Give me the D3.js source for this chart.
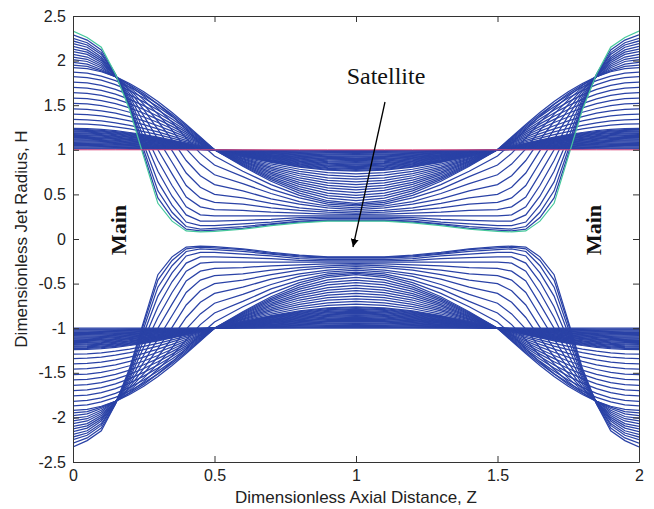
<!DOCTYPE html>
<html>
<head>
<meta charset="utf-8">
<script src="https://cdnjs.cloudflare.com/ajax/libs/d3/7.8.5/d3.min.js"></script>
<style>
  body { margin: 0; background: #fff; }
  text { font-family: "Liberation Sans", Arial, sans-serif; fill: #222; }
</style>
</head>
<body>
<script>
      //Posiciones axiales de media longitud de onda (el perfil es simetrico respecto a z=1)
      var zHalf = [0, 0.05, 0.1, 0.15, 0.2, 0.25, 0.3, 0.35, 0.4, 0.45, 0.5, 0.6, 0.7, 0.8, 0.9, 1];

      //Perfil inicial H=1
      var initialH = [1, 1, 1, 1, 1, 1, 1, 1, 1, 1, 1, 1, 1, 1, 1, 1];

      //Crecimiento lineal (lineas muy juntas)
      var phaseA = [
        [1.01, 1.01, 1.01, 1.009, 1.008, 1.007, 1.006, 1.005, 1.003, 1.002, 1, 0.997, 0.994, 0.992, 0.99, 0.99],
        [1.02, 1.02, 1.019, 1.018, 1.016, 1.014, 1.012, 1.009, 1.006, 1.003, 1, 0.994, 0.988, 0.984, 0.981, 0.98],
        [1.03, 1.03, 1.029, 1.027, 1.024, 1.021, 1.018, 1.014, 1.009, 1.005, 1, 0.991, 0.982, 0.976, 0.971, 0.97],
        [1.04, 1.04, 1.038, 1.036, 1.032, 1.028, 1.024, 1.018, 1.012, 1.006, 1, 0.988, 0.976, 0.968, 0.962, 0.96],
        [1.05, 1.049, 1.048, 1.045, 1.04, 1.035, 1.029, 1.023, 1.015, 1.008, 1, 0.985, 0.971, 0.96, 0.952, 0.95],
        [1.06, 1.059, 1.057, 1.053, 1.049, 1.042, 1.035, 1.027, 1.019, 1.009, 1, 0.981, 0.965, 0.951, 0.943, 0.94],
        [1.07, 1.069, 1.067, 1.062, 1.057, 1.049, 1.041, 1.032, 1.022, 1.011, 1, 0.978, 0.959, 0.943, 0.933, 0.93],
        [1.08, 1.079, 1.076, 1.071, 1.065, 1.057, 1.047, 1.036, 1.025, 1.012, 1, 0.975, 0.953, 0.935, 0.924, 0.92],
        [1.09, 1.089, 1.086, 1.08, 1.073, 1.064, 1.053, 1.041, 1.028, 1.014, 1, 0.972, 0.947, 0.927, 0.914, 0.91],
        [1.10, 1.099, 1.095, 1.089, 1.081, 1.071, 1.059, 1.045, 1.031, 1.016, 1, 0.969, 0.941, 0.919, 0.905, 0.90],
        [1.11, 1.109, 1.105, 1.098, 1.089, 1.078, 1.065, 1.05, 1.034, 1.017, 1, 0.966, 0.935, 0.911, 0.895, 0.89],
        [1.12, 1.119, 1.114, 1.107, 1.097, 1.085, 1.071, 1.054, 1.037, 1.019, 1, 0.963, 0.929, 0.903, 0.886, 0.88],
        [1.13, 1.128, 1.124, 1.116, 1.105, 1.092, 1.076, 1.059, 1.04, 1.02, 1, 0.96, 0.924, 0.895, 0.876, 0.87],
        [1.14, 1.138, 1.133, 1.125, 1.113, 1.099, 1.082, 1.064, 1.043, 1.022, 1, 0.957, 0.918, 0.887, 0.867, 0.86],
        [1.15, 1.148, 1.143, 1.134, 1.121, 1.106, 1.088, 1.068, 1.046, 1.023, 1, 0.954, 0.912, 0.879, 0.857, 0.85],
        [1.16, 1.158, 1.152, 1.143, 1.129, 1.113, 1.094, 1.073, 1.049, 1.025, 1, 0.951, 0.906, 0.871, 0.848, 0.84],
        [1.17, 1.168, 1.162, 1.151, 1.138, 1.12, 1.1, 1.077, 1.053, 1.027, 1, 0.947, 0.9, 0.862, 0.838, 0.83],
        [1.18, 1.178, 1.171, 1.16, 1.146, 1.127, 1.106, 1.082, 1.056, 1.028, 1, 0.944, 0.894, 0.854, 0.829, 0.82],
        [1.19, 1.188, 1.181, 1.169, 1.154, 1.134, 1.112, 1.086, 1.059, 1.03, 1, 0.941, 0.888, 0.846, 0.819, 0.81],
        [1.20, 1.198, 1.19, 1.178, 1.162, 1.141, 1.118, 1.091, 1.062, 1.031, 1, 0.938, 0.882, 0.838, 0.81, 0.80],
        [1.21, 1.207, 1.2, 1.187, 1.17, 1.148, 1.123, 1.095, 1.065, 1.033, 1, 0.935, 0.877, 0.83, 0.8, 0.79],
        [1.22, 1.217, 1.209, 1.196, 1.178, 1.156, 1.129, 1.1, 1.068, 1.034, 1, 0.932, 0.871, 0.822, 0.791, 0.78],
        [1.23, 1.227, 1.219, 1.205, 1.186, 1.163, 1.135, 1.104, 1.071, 1.036, 1, 0.929, 0.865, 0.814, 0.781, 0.77],
        [1.24, 1.237, 1.228, 1.214, 1.194, 1.17, 1.141, 1.109, 1.074, 1.037, 1, 0.926, 0.859, 0.806, 0.772, 0.76]
      ];

      //Crecimiento no lineal (lineas separadas)
      var phaseB = [
        [1.29, 1.287, 1.276, 1.258, 1.235, 1.205, 1.171, 1.132, 1.09, 1.045, 1, 0.917, 0.841, 0.782, 0.743, 0.73],
        [1.34, 1.336, 1.323, 1.303, 1.275, 1.24, 1.2, 1.154, 1.105, 1.053, 1, 0.907, 0.824, 0.757, 0.715, 0.70],
        [1.40, 1.395, 1.38, 1.356, 1.324, 1.283, 1.235, 1.182, 1.124, 1.062, 1, 0.898, 0.806, 0.733, 0.686, 0.67],
        [1.46, 1.454, 1.437, 1.41, 1.372, 1.325, 1.27, 1.209, 1.142, 1.072, 1, 0.889, 0.788, 0.709, 0.658, 0.64],
        [1.52, 1.514, 1.495, 1.463, 1.421, 1.368, 1.306, 1.236, 1.161, 1.081, 1, 0.879, 0.771, 0.684, 0.629, 0.61],
        [1.58, 1.573, 1.552, 1.517, 1.469, 1.41, 1.341, 1.263, 1.179, 1.09, 1, 0.870, 0.753, 0.66, 0.601, 0.58],
        [1.64, 1.632, 1.609, 1.57, 1.518, 1.452, 1.376, 1.291, 1.198, 1.1, 1, 0.861, 0.735, 0.636, 0.572, 0.55],
        [1.70, 1.692, 1.666, 1.624, 1.566, 1.495, 1.412, 1.318, 1.216, 1.109, 1, 0.852, 0.718, 0.612, 0.544, 0.52],
        [1.76, 1.751, 1.723, 1.677, 1.615, 1.537, 1.447, 1.345, 1.235, 1.119, 1, 0.842, 0.70, 0.587, 0.515, 0.49],
        [1.82, 1.81, 1.78, 1.731, 1.663, 1.58, 1.482, 1.372, 1.253, 1.128, 1, 0.833, 0.682, 0.563, 0.486, 0.46],
        [1.87, 1.86, 1.827, 1.775, 1.704, 1.615, 1.512, 1.395, 1.269, 1.136, 1, 0.824, 0.665, 0.539, 0.458, 0.43],
        [1.92, 1.909, 1.875, 1.82, 1.744, 1.65, 1.541, 1.418, 1.284, 1.144, 1, 0.815, 0.647, 0.515, 0.429, 0.40]
      ];

      //Formacion del cuello y del satelite
      var phaseC = [
        [1.95, 1.935, 1.885, 1.82, 1.73, 1.63, 1.51, 1.38, 1.23, 1.07, 0.93, 0.76, 0.61, 0.49, 0.41, 0.385],
        [1.98, 1.96, 1.90, 1.82, 1.72, 1.60, 1.46, 1.31, 1.13, 0.96, 0.83, 0.70, 0.56, 0.46, 0.39, 0.37],
        [2.01, 1.99, 1.92, 1.82, 1.70, 1.56, 1.40, 1.22, 1.01, 0.84, 0.72, 0.62, 0.51, 0.42, 0.37, 0.35],
        [2.04, 2.015, 1.94, 1.82, 1.68, 1.51, 1.32, 1.11, 0.88, 0.71, 0.61, 0.54, 0.45, 0.39, 0.35, 0.33],
        [2.07, 2.04, 1.96, 1.83, 1.66, 1.45, 1.23, 0.99, 0.74, 0.58, 0.50, 0.46, 0.40, 0.35, 0.32, 0.31],
        [2.10, 2.07, 1.98, 1.83, 1.63, 1.38, 1.12, 0.86, 0.60, 0.46, 0.41, 0.39, 0.35, 0.32, 0.30, 0.29],
        [2.13, 2.095, 2.00, 1.83, 1.60, 1.30, 1.00, 0.73, 0.47, 0.36, 0.33, 0.32, 0.30, 0.29, 0.28, 0.275],
        [2.16, 2.12, 2.02, 1.83, 1.57, 1.21, 0.88, 0.60, 0.36, 0.27, 0.26, 0.26, 0.26, 0.26, 0.26, 0.26],
        [2.19, 2.15, 2.04, 1.84, 1.54, 1.13, 0.76, 0.48, 0.27, 0.20, 0.20, 0.21, 0.22, 0.24, 0.245, 0.245],
        [2.22, 2.175, 2.07, 1.84, 1.51, 1.06, 0.64, 0.38, 0.19, 0.15, 0.15, 0.17, 0.19, 0.22, 0.23, 0.23],
        [2.25, 2.20, 2.09, 1.84, 1.49, 1.00, 0.54, 0.30, 0.14, 0.11, 0.12, 0.14, 0.17, 0.20, 0.215, 0.215],
        [2.29, 2.23, 2.12, 1.85, 1.47, 0.95, 0.46, 0.24, 0.11, 0.09, 0.10, 0.12, 0.16, 0.19, 0.205, 0.205]
      ];

      //Perfil final (rotura)
      var finalH = [2.33, 2.26, 2.15, 1.85, 1.45, 0.92, 0.40, 0.20, 0.09, 0.08, 0.085, 0.11, 0.15, 0.18, 0.20, 0.20];

      //Ticks
      var xTicks = [0, 0.5, 1, 1.5, 2];
      var xTickLabels = ["0", "0.5", "1", "1.5", "2"];
      var yTicks = [-2.5, -2, -1.5, -1, -0.5, 0, 0.5, 1, 1.5, 2, 2.5];
      var yTickLabels = ["-2.5", "-2", "-1.5", "-1", "-0.5", "0", "0.5", "1", "1.5", "2", "2.5"];

      //Margenes y tamaños
      var W = 654, H = 509;
      var margin = { top: 16, right: 15, bottom: 47, left: 73 };

      var svg = d3.select("body").append("svg")
          .attr("width", W)
          .attr("height", H);

      var xScale = d3.scaleLinear()
          .domain([0, 2])
          .range([margin.left, W - margin.right]);

      var yScale = d3.scaleLinear()
          .domain([-2.5, 2.5])
          .range([H - margin.bottom, margin.top]);

      //z completo: media onda + su reflejo
      var zFull = zHalf.concat(zHalf.slice(0, -1).reverse().map(function(z) { return 2 - z; }));
      function full(p) { return p.concat(p.slice(0, -1).reverse()); }

      svg.append("clipPath").attr("id", "clip")
        .append("rect")
          .attr("x", margin.left).attr("y", margin.top)
          .attr("width", W - margin.left - margin.right)
          .attr("height", H - margin.top - margin.bottom);

      var plot = svg.append("g").attr("clip-path", "url(#clip)");

      var upper = d3.line()
          .x(function(d, i) { return xScale(zFull[i]); })
          .y(function(d) { return yScale(d); });
      var lower = d3.line()
          .x(function(d, i) { return xScale(zFull[i]); })
          .y(function(d) { return yScale(-d); });

      var blue = "#2a42a6";
      var profiles = phaseA.concat(phaseB, phaseC);

      //Mitad inferior (-H)
      plot.selectAll("path.lo")
          .data([initialH].concat(profiles, [finalH]))
          .enter().append("path")
          .attr("class", "lo")
          .attr("d", function(d) { return lower(full(d)); })
          .attr("fill", "none")
          .attr("stroke", blue)
          .attr("stroke-width", 1.25);

      //Mitad superior (H)
      plot.selectAll("path.up")
          .data(profiles)
          .enter().append("path")
          .attr("class", "up")
          .attr("d", function(d) { return upper(full(d)); })
          .attr("fill", "none")
          .attr("stroke", blue)
          .attr("stroke-width", 1.25);

      plot.append("path")
          .attr("d", upper(full(finalH)))
          .attr("fill", "none")
          .attr("stroke", "#46c89c")
          .attr("stroke-width", 1.2);

      plot.append("path")
          .attr("d", upper(full(initialH)))
          .attr("fill", "none")
          .attr("stroke", "#d9467a")
          .attr("stroke-width", 1);

      //Ejes con ticks hacia dentro (estilo matlab)
      svg.append("g")
         .attr("transform", "translate(0," + (H - margin.bottom) + ")")
         .call(d3.axisBottom(xScale).tickValues(xTicks)
               .tickFormat(function(d, i) { return xTickLabels[i]; })
               .tickSizeInner(-6).tickSizeOuter(0).tickPadding(8))
         .call(styleAxis);

      svg.append("g")
         .attr("transform", "translate(" + margin.left + ",0)")
         .call(d3.axisLeft(yScale).tickValues(yTicks)
               .tickFormat(function(d, i) { return yTickLabels[i]; })
               .tickSizeInner(-6).tickSizeOuter(0).tickPadding(7))
         .call(styleAxis);

      svg.append("g")
         .attr("transform", "translate(0," + margin.top + ")")
         .call(d3.axisTop(xScale).tickValues(xTicks).tickFormat("")
               .tickSizeInner(-6).tickSizeOuter(0))
         .call(styleAxis);

      svg.append("g")
         .attr("transform", "translate(" + (W - margin.right) + ",0)")
         .call(d3.axisRight(yScale).tickValues(yTicks).tickFormat("")
               .tickSizeInner(-6).tickSizeOuter(0))
         .call(styleAxis);

      function styleAxis(g) {
        g.select(".domain").attr("stroke", "#333");
        g.selectAll(".tick line").attr("stroke", "#333");
        g.selectAll(".tick text")
          .attr("fill", "#222")
          .style("font-family", '"Liberation Sans", Arial, sans-serif')
          .style("font-size", "16px");
      }

      //Titulos de los ejes
      svg.append("text")
          .attr("x", (margin.left + W - margin.right) / 2)
          .attr("y", 503)
          .attr("text-anchor", "middle")
          .style("font-size", "17px")
          .text("Dimensionless Axial Distance, Z");

      svg.append("text")
          .attr("transform", "translate(27," + yScale(0) + ") rotate(-90)")
          .attr("text-anchor", "middle")
          .style("font-size", "17px")
          .text("Dimensionless Jet Radius, H");

      //Anotaciones
      svg.append("defs").append("marker")
          .attr("id", "head")
          .attr("viewBox", "0 0 10 10")
          .attr("refX", 10).attr("refY", 5)
          .attr("markerWidth", 8).attr("markerHeight", 8)
          .attr("markerUnits", "userSpaceOnUse")
          .attr("orient", "auto")
        .append("path")
          .attr("d", "M0,0 L10,5 L0,10 z")
          .attr("fill", "#000");

      svg.append("text")
          .attr("x", 386).attr("y", 84)
          .attr("text-anchor", "middle")
          .style("font-family", '"Liberation Serif", "Times New Roman", serif')
          .style("font-size", "24px")
          .style("fill", "#111")
          .text("Satellite");

      svg.append("line")
          .attr("x1", 385).attr("y1", 102)
          .attr("x2", 353).attr("y2", 247)
          .attr("stroke", "#000")
          .attr("stroke-width", 1.3)
          .attr("marker-end", "url(#head)");

      [126, 601].forEach(function(x) {
        svg.append("text")
            .attr("transform", "translate(" + x + ",230) rotate(-90)")
            .attr("text-anchor", "middle")
            .style("font-family", '"Liberation Serif", "Times New Roman", serif')
            .style("font-weight", "bold")
            .style("font-size", "22px")
            .style("fill", "#111")
            .text("Main");
      });
</script>
</body>
</html>
